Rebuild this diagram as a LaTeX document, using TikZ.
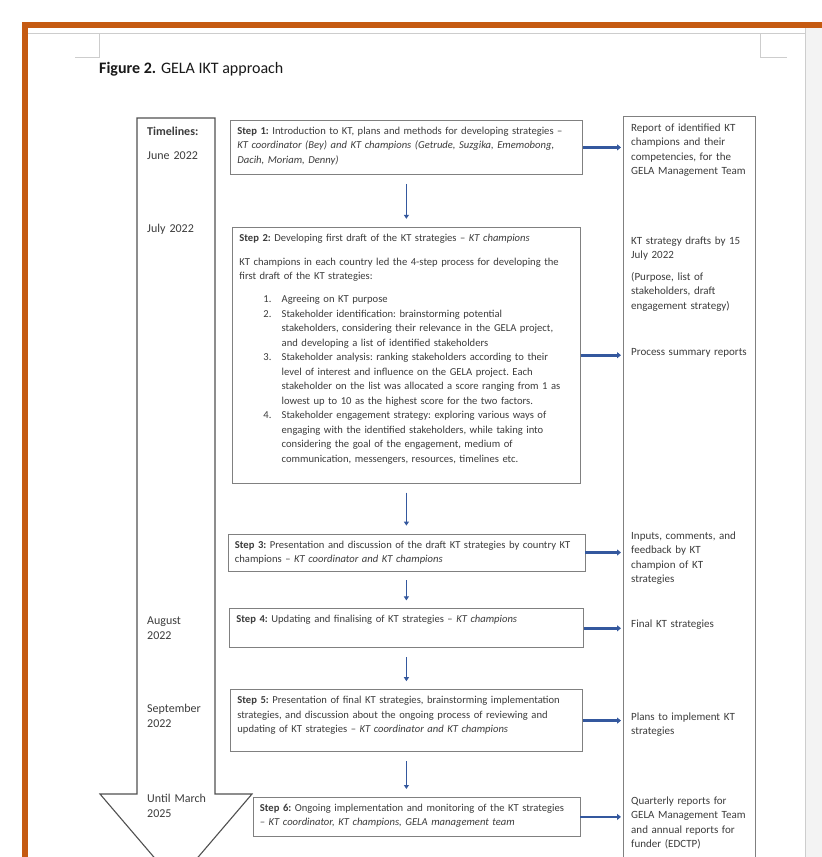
\documentclass[tikz,border=0pt]{standalone}
\usepackage{fontspec}
\setmainfont{Carlito}
\usepackage{xcolor}
\usepackage{tikz}
\usetikzlibrary{arrows.meta,positioning}

\definecolor{bandorange}{RGB}{197,90,17}
\definecolor{boxgray}{RGB}{128,128,128}
\definecolor{tlgray}{RGB}{80,80,80}
\definecolor{txtgray}{RGB}{60,60,60}
\definecolor{arrowblue}{RGB}{52,88,158}
\definecolor{sidegray}{RGB}{243,243,243}
\definecolor{lightline}{RGB}{205,205,205}

\newcommand{\numitem}[1]{\hspace*{24pt}\makebox[18.3pt][l]{#1}}
\newcommand{\numcont}{\hspace*{42.3pt}}

\begin{document}
\begin{tikzpicture}[x=1pt,y=-1pt,>={Triangle[length=4pt,width=5pt]},
  stepbox/.style={draw=boxgray,line width=0.8pt,fill=white,align=left,inner xsep=7pt,inner ysep=6pt,text height=8pt,text=txtgray,font=\fontsize{10.6}{14.5}\selectfont\frenchspacing},
  outbox/.style={draw=boxgray,line width=0.8pt,anchor=north west,minimum width=132pt,minimum height=770pt},
  outtxt/.style={anchor=base west,inner sep=0pt,text width=120pt,align=left,text=txtgray,font=\fontsize{11}{14.6}\selectfont},
  tltxt/.style={anchor=base west,inner sep=0pt,text width=64pt,align=left,text=txtgray,font=\fontsize{12}{15.5}\selectfont},
  tlarrow/.style={draw=tlgray,line width=1.1pt,fill=white},
  varr/.style={->,arrowblue,line width=1.8pt,shorten >=8pt,shorten <=9pt},
  harr/.style={-{Triangle[length=4pt,width=6pt]},arrowblue,line width=2.6pt,shorten >=2pt}]
  \useasboundingbox (0,0) rectangle (822,857);
  \clip (0,0) rectangle (822,857);
  % page and frame
  \fill[white] (0,0) rectangle (822,857);
  \fill[sidegray] (806,28) rectangle (822,857);
  \draw[lightline,line width=1pt] (805,28) -- (805,857);
  \draw[lightline,line width=1pt] (28,33) -- (805,33);
  \fill[bandorange] (22,22) rectangle (822,28);
  \fill[bandorange] (22,22) rectangle (28,857);
  \draw[lightline,line width=0.8pt] (99,33) -- (99,57) -- (75,57);
  \draw[lightline,line width=0.8pt] (760,33) -- (760,57) -- (787,57);
  \node[anchor=base west,inner sep=0pt,font=\fontsize{16}{20}\selectfont,text=black!90] (figtitle) at (99,73) {\textbf{Figure 2.} GELA IKT approach};
  % timeline arrow
  \draw[tlarrow] (137,118) -- (137,794) -- (100,794) -- (176,883) -- (252,794) -- (215,794) -- (215,118) -- cycle;
  \node[tltxt,font=\fontsize{12}{15.5}\selectfont\bfseries] (tlhead) at (147,135) {Timelines:};
  \node[tltxt] (tljun) at (147,159) {June 2022};
  \node[tltxt] (tljul) at (147,232) {July 2022};
  \node[tltxt] (tlaug) at (147,624) {August\\2022};
  \node[tltxt] (tlsep) at (147,712) {September\\2022};
  \node[tltxt] (tlmar) at (147,802) {Until March\\2025};
  % steps
  \node[stepbox,anchor=north west,text width=338pt,text depth=34pt] (s1) at (230,120) {\textbf{Step 1:} Introduction to KT, plans and methods for developing strategies –\\
    \textit{KT coordinator (Bey) and KT champions (Getrude, Suzgika, Ememobong,}\\
    \textit{Dacih, Moriam, Denny)}};
  \node[stepbox,below=52pt of s1,text width=334pt,text depth=236pt] (s2) {\textbf{Step 2:} Developing first draft of the KT strategies – \textit{KT champions}\\[9.5pt]
    KT champions in each country led the 4-step process for developing the\\
    first draft of the KT strategies:\\[8.3pt]
    \numitem{1.}Agreeing on KT purpose\\
    \numitem{2.}Stakeholder identification: brainstorming potential\\
    \numcont stakeholders, considering their relevance in the GELA project,\\
    \numcont and developing a list of identified stakeholders\\
    \numitem{3.}Stakeholder analysis: ranking stakeholders according to their\\
    \numcont level of interest and influence on the GELA project. Each\\
    \numcont stakeholder on the list was allocated a score ranging from 1 as\\
    \numcont lowest up to 10 as the highest score for the two factors.\\
    \numitem{4.}Stakeholder engagement strategy: exploring various ways of\\
    \numcont engaging with the identified stakeholders, while taking into\\
    \numcont considering the goal of the engagement, medium of\\
    \numcont communication, messengers, resources, timelines etc.};
  \node[stepbox,below=50pt of s2,text width=343pt,text depth=17pt] (s3) {\textbf{Step 3:} Presentation and discussion of the draft KT strategies by country KT\\
    champions – \textit{KT coordinator and KT champions}};
  \node[stepbox,below=37pt of s3,text width=340pt,text depth=19pt] (s4) {\textbf{Step 4:} Updating and finalising of KT strategies – \textit{KT champions}};
  \node[stepbox,below=41pt of s4,text width=338pt,text depth=42pt] (s5) {\textbf{Step 5:} Presentation of final KT strategies, brainstorming implementation\\
    strategies, and discussion about the ongoing process of reviewing and\\
    updating of KT strategies – \textit{KT coordinator and KT champions}};
  \node[stepbox,below=45pt of s5,xshift=10pt,text width=313pt,text depth=19pt] (s6) {\textbf{Step 6:} Ongoing implementation and monitoring of the KT strategies\\
    \textit{– KT coordinator, KT champions, GELA management team}};
  % outputs
  \node[outbox] (outbox) at (623,116) {};
  \node[outtxt] (o1) at (631,131) {Report of identified KT\\champions and their\\competencies, for the\\GELA Management Team};
  \node[outtxt] (o2) at (631,244) {KT strategy drafts by 15\\July 2022};
  \node[outtxt] (o2b) at (631,280) {(Purpose, list of\\stakeholders, draft\\engagement strategy)};
  \node[outtxt] (o2c) at (631,355) {Process summary reports};
  \node[outtxt] (o3) at (631,539) {Inputs, comments, and\\feedback by KT\\champion of KT\\strategies};
  \node[outtxt] (o4) at (631,627) {Final KT strategies};
  \node[outtxt] (o5) at (631,720) {Plans to implement KT\\strategies};
  \node[outtxt] (o6) at (631,804) {Quarterly reports for\\GELA Management Team\\and annual reports for\\funder (EDCTP)};
  % arrows
  \draw[varr] (s1.south) -- (s1.south |- s2.north);
  \draw[varr] (s2.south) -- (s2.south |- s3.north);
  \draw[varr] (s3.south) -- (s3.south |- s4.north);
  \draw[varr] (s4.south) -- (s4.south |- s5.north);
  \draw[varr] (s5.south) -- (s5.south |- s6.north);
  \draw[harr] (s1.east) -- (s1.east -| outbox.west);
  \draw[harr] (s2.east) -- (s2.east -| outbox.west);
  \draw[harr] (s3.east) -- (s3.east -| outbox.west);
  \draw[harr] (s4.east) -- (s4.east -| outbox.west);
  \draw[harr] (s5.east) -- (s5.east -| outbox.west);
  \draw[harr] (s6.east) -- (s6.east -| outbox.west);
\end{tikzpicture}
\end{document}
